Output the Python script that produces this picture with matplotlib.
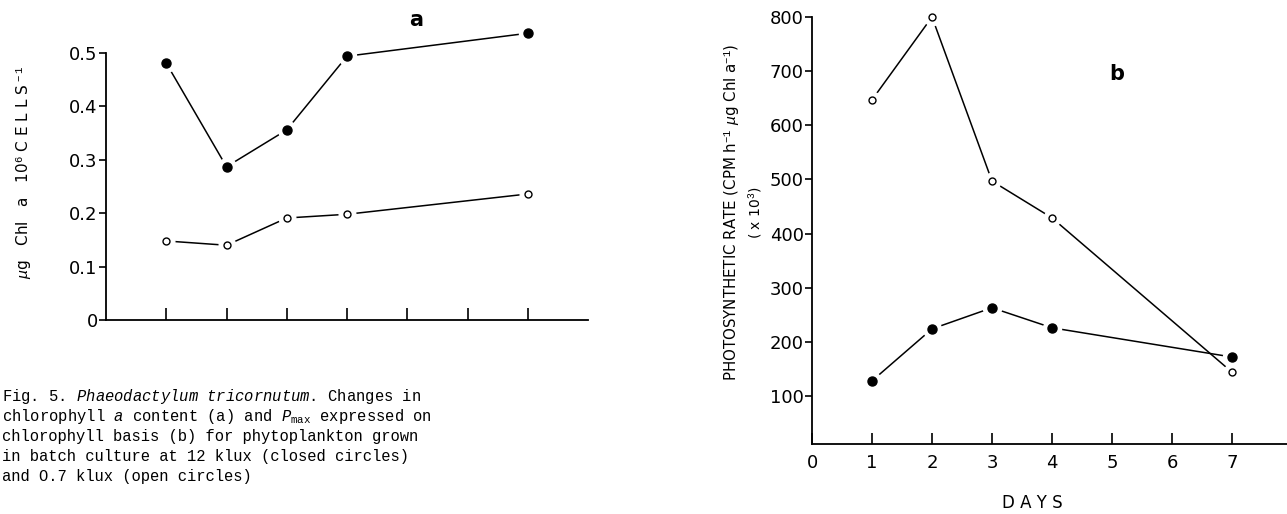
import matplotlib
matplotlib.use("Agg")
import matplotlib.pyplot as plt

# data
days = [1, 2, 3, 4, 7]
chl_closed = [0.481, 0.287, 0.356, 0.494, 0.537]   # 12 klux
chl_open = [0.148, 0.140, 0.191, 0.198, 0.236]     # 0.7 klux
pmax_closed = [128, 224, 263, 226, 172]
pmax_open = [647, 800, 497, 429, 144]

chl_ticks = [0, 0.1, 0.2, 0.3, 0.4, 0.5]
chl_ticklabels = ['0', '0.1', '0.2', '0.3', '0.4', '0.5']
pmax_ticks = [100, 200, 300, 400, 500, 600, 700, 800]
day_ticks = [0, 1, 2, 3, 4, 5, 6, 7]

plt.rcParams['font.family'] = 'DejaVu Sans'
plt.rcParams['mathtext.fontset'] = 'custom'
plt.rcParams['mathtext.rm'] = 'Liberation Mono'
plt.rcParams['mathtext.it'] = 'Liberation Mono:italic'

fig = plt.figure(figsize=(12.87, 5.14), dpi=100)


def draw_series(ax, x, y, filled):
    ax.plot(x, y, color='black', lw=1.1, zorder=2, clip_on=False)
    # white halo so the line stops short of the marker, like the drawing
    ax.plot(x, y, ls='none', marker='o', ms=13 if filled else 12,
            mfc='white', mec='white', zorder=3, clip_on=False)
    if filled:
        ax.plot(x, y, ls='none', marker='o', ms=6.5, mfc='black', mec='black',
                zorder=4, clip_on=False)
    else:
        ax.plot(x, y, ls='none', marker='o', ms=5, mfc='white', mec='black',
                mew=1.0, zorder=4, clip_on=False)


def style_axes(ax):
    for s in ['top', 'right']:
        ax.spines[s].set_visible(False)
    for s in ['left', 'bottom']:
        ax.spines[s].set_linewidth(1.3)
    ax.tick_params(axis='y', direction='out', length=5, width=1.2, pad=1,
                   labelsize=13)
    ax.tick_params(axis='x', direction='in', length=9, width=1.2, pad=7,
                   labelsize=13)


# ---- panel a
ax1 = fig.add_axes([106/1287, 1-320/514, 482/1287, 267/514])
draw_series(ax1, days, chl_closed, True)
draw_series(ax1, days, chl_open, False)
ax1.set_xlim(0, 8)
ax1.set_ylim(0, 0.5)
ax1.set_yticks(chl_ticks)
ax1.set_yticklabels(chl_ticklabels)
ax1.set_xticks(day_ticks[1:])
ax1.set_xticklabels([])
style_axes(ax1)
fig.text(24/1287, 1-172/514, r'$\mu$g   Chl   a   10$^{6}$ C E L L S$^{\ -1}$',
         rotation=90, fontsize=11, ha='center', va='center')
fig.text(416/1287, 1-20/514, 'a', fontsize=15, fontweight='bold',
         ha='center', va='center')

# ---- panel b
ax2 = fig.add_axes([812/1287, 1-444/514, 475/1287, 427/514])
draw_series(ax2, days, pmax_open, False)
draw_series(ax2, days, pmax_closed, True)
ax2.set_xlim(0, 475/60)
ax2.set_ylim(11.4, 800)
ax2.set_yticks(pmax_ticks)
ax2.set_xticks(day_ticks)
style_axes(ax2)
ax2.tick_params(axis='x', length=8)
fig.text(1032/1287, 1-503/514, 'D A Y S', fontsize=12,
         ha='center', va='center')
fig.text(732/1287, 1-212/514,
         r'PHOTOSYNTHETIC RATE (CPM h$^{-1}$ $\mu$g Chl a$^{-1}$)',
         rotation=90, fontsize=10.8, ha='center', va='center')
fig.text(755/1287, 1-213/514, r'( x 10$^{3}$)', rotation=90, fontsize=10,
         ha='center', va='center')
fig.text(1117/1287, 1-74/514, 'b', fontsize=15, fontweight='bold',
         ha='center', va='center')

# ---- caption
caption = [
    r'Fig. 5. $\mathit{Phaeodactylum}$ $\mathit{tricornutum}$. Changes in',
    r'chlorophyll $\mathit{a}$ content (a) and $\mathit{P}_{\mathrm{max}}$ expressed on',
    'chlorophyll basis (b) for phytoplankton grown',
    'in batch culture at 12 klux (closed circles)',
    'and O.7 klux (open circles)',
]
line_y = [397, 417, 437, 457, 476]
for txt, yy in zip(caption, line_y):
    fig.text(2/1287, 1-yy/514, txt, family='Liberation Mono', fontsize=11.2,
             ha='left', va='center')

fig.savefig('out.png', dpi=100)
